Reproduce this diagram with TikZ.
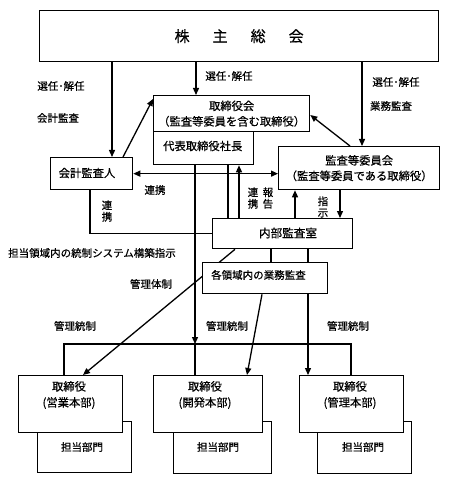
\documentclass[tikz,border=0pt]{standalone}
\usepackage{fontspec}
\setmainfont[RawFeature={embolden=0.6}]{Noto Sans CJK JP}
\usetikzlibrary{arrows.meta}
\begin{document}
\begin{tikzpicture}[x=1pt,y=-1pt,
  box/.style={draw,line width=1.3pt,fill=white,inner sep=0pt,anchor=north west},
  arr/.style={line width=1.3pt,-{Triangle[length=7pt,width=6pt]}},
  darr/.style={line width=1.3pt,{Triangle[length=7pt,width=6pt]}-{Triangle[length=7pt,width=6pt]}},
  ln/.style={line width=1.3pt},
  mt/.style={font=\fontsize{11.3}{15.5}\selectfont,inner sep=0pt,align=center},
  lb/.style={font=\fontsize{10.5}{11.5}\selectfont,inner sep=0pt,align=center}]
\useasboundingbox (0,0) rectangle (450,486);

% back boxes
\node[box,minimum width=94pt,minimum height=51pt] (eigyob) at (37,421) {};
\node[box,minimum width=98pt,minimum height=52pt] (kaihatsub) at (173,421) {};
\node[box,minimum width=94pt,minimum height=52pt] (kanrib) at (317,421) {};
\node[lb] (eigyob-t) at (82,447) {担当部門};
\node[lb] (kaihatsub-t) at (218,447) {担当部門};
\node[lb] (kanrib-t) at (363,447) {担当部門};

% main boxes
\node[box,minimum width=399pt,minimum height=51pt,font=\fontsize{15}{15}\selectfont] (soukai) at (39,10) {株\hspace{23pt}主\hspace{23pt}総\hspace{23pt}会};
\node[box,minimum width=156pt,minimum height=36pt,mt,anchor=north west] (torikai) at (153,95) {取締役会\\（監査等委員を含む取締役）};
\node[box,minimum width=100pt,minimum height=33pt] (daihyo) at (153,131) {};
\node[mt,anchor=west] (daihyo-t) at (163,146) {代表取締役社長};
\node[box,minimum width=82pt,minimum height=32pt] (kaikei) at (50,157) {};
\node[mt] (kaikei-t) at (87,173) {会計監査人};
\node[box,minimum width=161pt,minimum height=43pt,mt,anchor=north west] (iinkai) at (278,146) {監査等委員会\\（監査等委員である取締役）};
\node[box,minimum width=140pt,minimum height=30pt] (naibu) at (212,218) {};
\node[mt,font=\fontsize{11.6}{15}\selectfont] (naibu-t) at (288,233) {内部監査室};

\node[box,minimum width=104pt,minimum height=57pt] (eigyo) at (18,375) {};
\node[box,minimum width=109pt,minimum height=57pt] (kaihatsu) at (153,375) {};
\node[box,minimum width=104pt,minimum height=57pt] (kanri) at (299,375) {};
\node[mt,font=\fontsize{11.3}{16}\selectfont] (eigyo-t) at (69,395) {取締役\\(営業本部)};
\node[mt,font=\fontsize{11.3}{16}\selectfont] (kaihatsu-t) at (205,395) {取締役\\(開発本部)};
\node[mt,font=\fontsize{11.3}{16}\selectfont] (kanri-t) at (350,395) {取締役\\(管理本部)};

% diagonal behind kakuryo box
\draw[arr] ([xshift=23pt]naibu.south west) -- ([xshift=65pt]eigyo.north west);

\node[box,minimum width=125pt,minimum height=31pt] (kakuryo) at (202,262) {};
\node[lb,anchor=west] (kakuryo-t) at (211,275) {各領域内の業務監査};

% connectors from soukai
\draw[arr] ([xshift=73pt]soukai.south west) -- ([xshift=62pt]kaikei.north west);
\draw[arr] ([xshift=157pt]soukai.south west) -- ([xshift=43pt]torikai.north west);
\draw[arr] ([xshift=323pt]soukai.south west) -- ([xshift=84pt]iinkai.north west);

\draw[arr] ([xshift=73pt]kaikei.north west) -- ([yshift=-4pt]torikai.north west);
\draw[arr] ([xshift=72pt]iinkai.north west) -- ([yshift=-20pt]torikai.north east);
\draw[darr] (kaikei.east) -- (kaikei.east -| iinkai.west);
\draw[ln] ([xshift=40pt]kaikei.south west) |- (naibu.west);

% bar
\coordinate (barL) at (64,344);
\coordinate (barM) at (195,344);
\coordinate (barR) at (351,344);
\draw[arr] ([xshift=42pt]daihyo.south west) -- (barM);
\draw[ln] ([xshift=46pt]eigyo.north west) -- (barL) -- (barR) -- ([xshift=52pt]kanri.north west);
\draw[ln] (barM) -- ([xshift=42pt]kaihatsu.north west);

\draw[ln] ([xshift=75pt]daihyo.south west) -- ([xshift=16pt]naibu.north west);
\draw[arr] ([xshift=27pt]naibu.north west) -- ([xshift=86pt]daihyo.south west);
\draw[arr] ([xshift=83pt]naibu.north west) -- ([xshift=17pt]iinkai.south west);
\draw[arr] ([xshift=62pt]iinkai.south west) -- ([xshift=128pt]naibu.north west);
\draw[ln] ([xshift=59pt]naibu.south west) -- ([xshift=69pt]kakuryo.north west);
\draw[ln] ([xshift=96pt]naibu.south west) -- ([xshift=106pt]kakuryo.north west);
\draw[arr] ([xshift=60pt]kakuryo.south west) -- ([xshift=94pt]kaihatsu.north west);
\draw[arr] ([xshift=106pt]kakuryo.south west) -- ([xshift=9pt]kanri.north west);

% labels
\node[lb] (l1) at (61,86) {選任･解任};
\node[lb] (l2) at (58,118) {会計監査};
\node[lb] (l3) at (229,76) {選任･解任};
\node[lb] (l4) at (396,82) {選任･解任};
\node[lb] (l5) at (391,106) {業務監査};
\node[lb] (l6) at (155,190) {連携};
\node[lb] (l7) at (107,211) {連\\携};
\node[lb] (l8) at (253,198) {連\\携};
\node[lb] (l9) at (268,198) {報\\告};
\node[lb] (l10) at (323,207) {指\\示};
\node[lb] (l11) at (92,253) {担当領域内の統制システム構築指示};
\node[lb] (l12) at (151,284) {管理体制};
\node[lb] (l13) at (75,326) {管理統制};
\node[lb] (l14) at (227,326) {管理統制};
\node[lb] (l15) at (348,326) {管理統制};
\end{tikzpicture}
\end{document}
